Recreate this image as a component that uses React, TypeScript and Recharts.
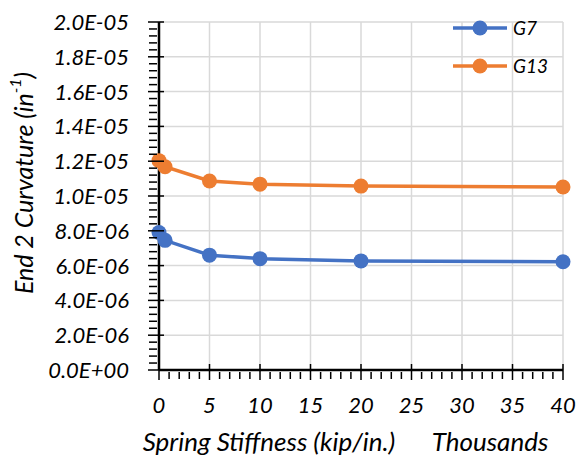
import { LineChart, Line, XAxis, YAxis, CartesianGrid, Label } from "recharts";

// spring stiffness, thousands of kip/in.
const stiffness = [0, 0.6, 5, 10, 20, 40];
const g7 = [7.9e-6, 7.45e-6, 6.6e-6, 6.4e-6, 6.27e-6, 6.22e-6];
const g13 = [1.203e-5, 1.168e-5, 1.086e-5, 1.068e-5, 1.057e-5, 1.052e-5];

const xTicks = [0, 5, 10, 15, 20, 25, 30, 35, 40];
const yTicks = [0, 2e-6, 4e-6, 6e-6, 8e-6, 1e-5, 1.2e-5, 1.4e-5, 1.6e-5, 1.8e-5, 2e-5];

const BLUE = "#4472C4";
const ORANGE = "#ED7D31";
const FONT = "Lato, 'Open Sans', sans-serif";

const data = stiffness.map((s, i) => ({ s, g7: g7[i], g13: g13[i] }));

// minor ticks: 4 between each pair of majors
const subdivide = (ticks: number[], n: number) => {
  const out: number[] = [];
  for (let i = 0; i < ticks.length - 1; i++) {
    const step = (ticks[i + 1] - ticks[i]) / n;
    for (let k = 0; k < n; k++) out.push(ticks[i] + step * k);
  }
  out.push(ticks[ticks.length - 1]);
  return out;
};
const xAll = subdivide(xTicks, 5);
const yAll = subdivide(yTicks, 5);

const isMajor = (v: number, majors: number[]) =>
  majors.some((m) => Math.abs(m - v) < Math.abs(majors[1] - majors[0]) * 1e-3);

const sci = (v: number) => {
  if (Math.abs(v) < 1e-12) return "0.0E+00";
  const e = Math.floor(Math.log10(v) + 1e-9);
  const m = v / Math.pow(10, e);
  return m.toFixed(1) + "E" + (e < 0 ? "-" : "+") + String(Math.abs(e)).padStart(2, "0");
};

const XTick = (props: any) => {
  const { x, y, payload } = props;
  const major = isMajor(payload.value, xTicks);
  return (
    <g>
      {major ? (
        <line x1={x} x2={x} y1={y - 8} y2={y + 8} stroke="#000" strokeWidth={1.5} />
      ) : (
        <line x1={x} x2={x} y1={y} y2={y + 7} stroke="#000" strokeWidth={1.5} />
      )}
      {major && (
        <text x={x} y={y + 41} textAnchor="middle" fontFamily={FONT} fontStyle="italic" fontSize={22} fill="#000">
          {Math.round(payload.value)}
        </text>
      )}
    </g>
  );
};

const YTick = (props: any) => {
  const { x, y, payload } = props;
  const major = isMajor(payload.value, yTicks);
  return (
    <g>
      {major ? (
        <line x1={x - 9} x2={x + 7} y1={y} y2={y} stroke="#000" strokeWidth={1.5} />
      ) : (
        <line x1={x - 8} x2={x} y1={y} y2={y} stroke="#000" strokeWidth={1.5} />
      )}
      {major && (
        <text x={x - 28} y={y + 8} textAnchor="end" fontFamily={FONT} fontStyle="italic" fontSize={22} fill="#000">
          {sci(payload.value)}
        </text>
      )}
    </g>
  );
};

const series = [
  { name: "G7", color: BLUE },
  { name: "G13", color: ORANGE },
];

const LegendBox = () => (
  <g>
    {series.map((s, i) => (
      <g key={s.name} transform={`translate(453, ${28 + i * 38})`}>
        <line x1={0} x2={54} y1={0} y2={0} stroke={s.color} strokeWidth={3.5} />
        <circle cx={27} cy={0} r={7.5} fill={s.color} />
        <text x={60} y={7} fontFamily={FONT} fontStyle="italic" fontSize={19} fill="#000">
          {s.name}
        </text>
      </g>
    ))}
  </g>
);

export default function App() {
  return (
    <div style={{ position: "absolute", left: 0, top: 0, background: "#fff" }}>
      <LineChart width={582} height={465} data={data} margin={{ top: 22, right: 19, left: 0, bottom: 0 }}>
        <CartesianGrid stroke="#d9d9d9" strokeWidth={1.5} horizontalValues={yTicks} verticalValues={xTicks} />
        <XAxis
          dataKey="s"
          type="number"
          domain={[0, 40]}
          ticks={xAll}
          interval={0}
          height={95}
          tickSize={0}
          tickLine={false}
          tick={<XTick />}
          axisLine={{ stroke: "#000", strokeWidth: 2.5 }}
        >
          <Label
            content={(p: any) => {
              const { y } = p.viewBox;
              return (
                <g fontFamily={FONT} fontStyle="italic" fontSize={26} fill="#000">
                  <text x={269} y={y + 81} textAnchor="middle">Spring Stiffness (kip/in.)</text>
                  <text x={490} y={y + 81} textAnchor="middle">Thousands</text>
                </g>
              );
            }}
          />
        </XAxis>
        <YAxis
          type="number"
          domain={[0, 2e-5]}
          ticks={yAll}
          interval={0}
          width={159}
          tickSize={0}
          tickLine={false}
          tick={<YTick />}
          axisLine={{ stroke: "#000", strokeWidth: 2.5 }}
        >
          <Label
            content={() => (
              <g>
                <text
                  x={23}
                  y={183}
                  transform="rotate(-90 23 183)"
                  textAnchor="middle"
                  dominantBaseline="central"
                  fontFamily={FONT}
                  fontStyle="italic"
                  fontSize={25}
                  fill="#000"
                >
                  End 2 Curvature (in
                  <tspan fontSize={16} dy={-9}>-1</tspan>
                  <tspan dy={9}>)</tspan>
                </text>
                <LegendBox />
              </g>
            )}
          />
        </YAxis>
        <Line dataKey="g7" name="G7" stroke={BLUE} strokeWidth={3.5} dot={{ r: 7.5, fill: BLUE, stroke: BLUE, strokeWidth: 0 }} isAnimationActive={false} />
        <Line dataKey="g13" name="G13" stroke={ORANGE} strokeWidth={3.5} dot={{ r: 7.5, fill: ORANGE, stroke: ORANGE, strokeWidth: 0 }} isAnimationActive={false} />
      </LineChart>
    </div>
  );
}
